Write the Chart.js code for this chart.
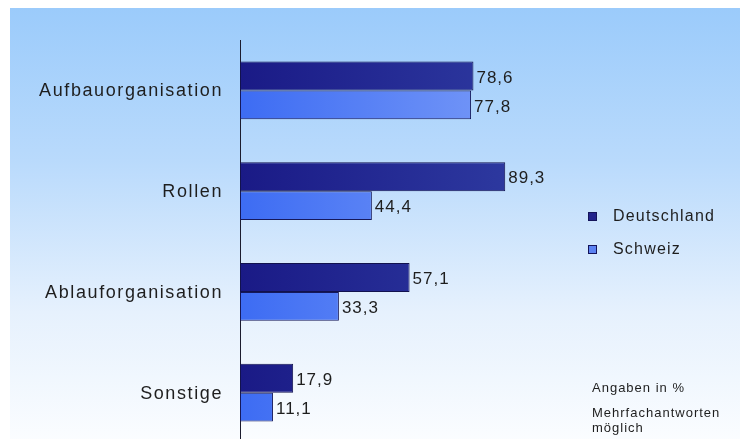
<!DOCTYPE html>
<html>
<head>
<meta charset="utf-8">
<script src="https://cdn.jsdelivr.net/npm/chart.js@4/dist/chart.umd.min.js"></script>
<style>
  html, body { margin: 0; padding: 0; overflow: hidden; background: #fff; }
  #wrap {
    position: absolute; left: 10px; top: 8px; width: 730px; height: 435px;
    background: linear-gradient(to bottom, #9bcbfb 0%, #b9dafc 35%, #e6f1fd 70%, #fbfdff 100%);
  }
  #chart { position: absolute; left: 0; top: 0; }
</style>
</head>
<body>
<div id="wrap"></div>
<canvas id="chart" width="740" height="443"></canvas>
<script>
const categories = ["Aufbauorganisation", "Rollen", "Ablauforganisation", "Sonstige"];
const deutschland = [78.6, 89.3, 57.1, 17.9];
const schweiz = [77.8, 44.4, 33.3, 11.1];
const seriesNames = ["Deutschland", "Schweiz"];
const notes = ["Angaben in %", "Mehrfachantworten", "möglich"];

const FONT = "Arial, 'Liberation Sans', sans-serif";

function barGradient(ctx, from, to) {
  const area = ctx.chart.chartArea;
  if (!area) return from;
  const g = ctx.chart.ctx.createLinearGradient(area.left, 0, area.left + 300, 0);
  g.addColorStop(0, from);
  g.addColorStop(1, to);
  return g;
}

// category names, value labels, legend and footnotes
const textPlugin = {
  id: "texts",
  afterDatasetsDraw(chart) {
    const c = chart.ctx;
    c.save();
    c.fillStyle = "#1e1e1e";
    c.textBaseline = "middle";

    // category labels left of the axis
    c.font = "18px " + FONT;
    c.letterSpacing = "1.6px";
    c.textAlign = "right";
    const yScale = chart.scales.y;
    categories.forEach((cat, i) => {
      c.fillText(cat, 223, yScale.getPixelForValue(i) + 1);
    });

    // value labels right of each bar
    c.font = "17px " + FONT;
    c.letterSpacing = "1px";
    c.textAlign = "left";
    chart.data.datasets.forEach((ds, di) => {
      chart.getDatasetMeta(di).data.forEach((bar, i) => {
        const txt = ds.data[i].toFixed(1).replace(".", ",");
        c.fillText(txt, bar.x + 3, bar.y + 2);
      });
    });

    // legend
    const legendColors = ["#22238c", "#5b82f2"];
    c.font = "16px " + FONT;
    c.letterSpacing = "1.2px";
    seriesNames.forEach((name, i) => {
      const y = 217 + i * 33;
      c.fillStyle = legendColors[i];
      c.fillRect(588, y - 5, 9, 9);
      c.strokeStyle = "#14145a";
      c.lineWidth = 1;
      c.strokeRect(588.5, y - 4.5, 8, 8);
      c.fillStyle = "#1e1e1e";
      c.fillText(name, 613, y);
    });

    // footnotes
    c.font = "13px " + FONT;
    c.letterSpacing = "1px";
    c.fillText(notes[0], 592, 388);
    c.fillText(notes[1], 592, 413);
    c.fillText(notes[2], 592, 428);
    c.restore();
  }
};

const ctx = document.getElementById("chart").getContext("2d");
const chart = new Chart(ctx, {
  type: "bar",
  data: {
    labels: categories,
    datasets: [
      {
        label: seriesNames[0],
        data: deutschland,
        backgroundColor: (c) => barGradient(c, "#1a1a86", "#2f3ca2"),
        borderColor: "#12124e",
        borderWidth: 1,
        borderSkipped: false,
        categoryPercentage: 0.575,
        barPercentage: 1,
      },
      {
        label: seriesNames[1],
        data: schweiz,
        backgroundColor: (c) => barGradient(c, "#3d6cf3", "#7d9ef8"),
        borderColor: "#15185a",
        borderWidth: 1,
        borderSkipped: false,
        categoryPercentage: 0.575,
        barPercentage: 1,
      },
    ],
  },
  options: {
    indexAxis: "y",
    responsive: false,
    animation: false,
    layout: { padding: { top: 40, right: 203, bottom: 0, left: 0 } },
    scales: {
      x: {
        display: false,
        min: 0,
        max: 100,
      },
      y: {
        afterFit: (scale) => { scale.width = 240; },
        ticks: { display: false },
        grid: { display: false, drawTicks: false },
        border: { display: true, color: "#1c1c2e", width: 1 },
      },
    },
    plugins: {
      legend: { display: false },
      tooltip: { enabled: false },
    },
  },
  plugins: [textPlugin],
});
</script>
</body>
</html>
